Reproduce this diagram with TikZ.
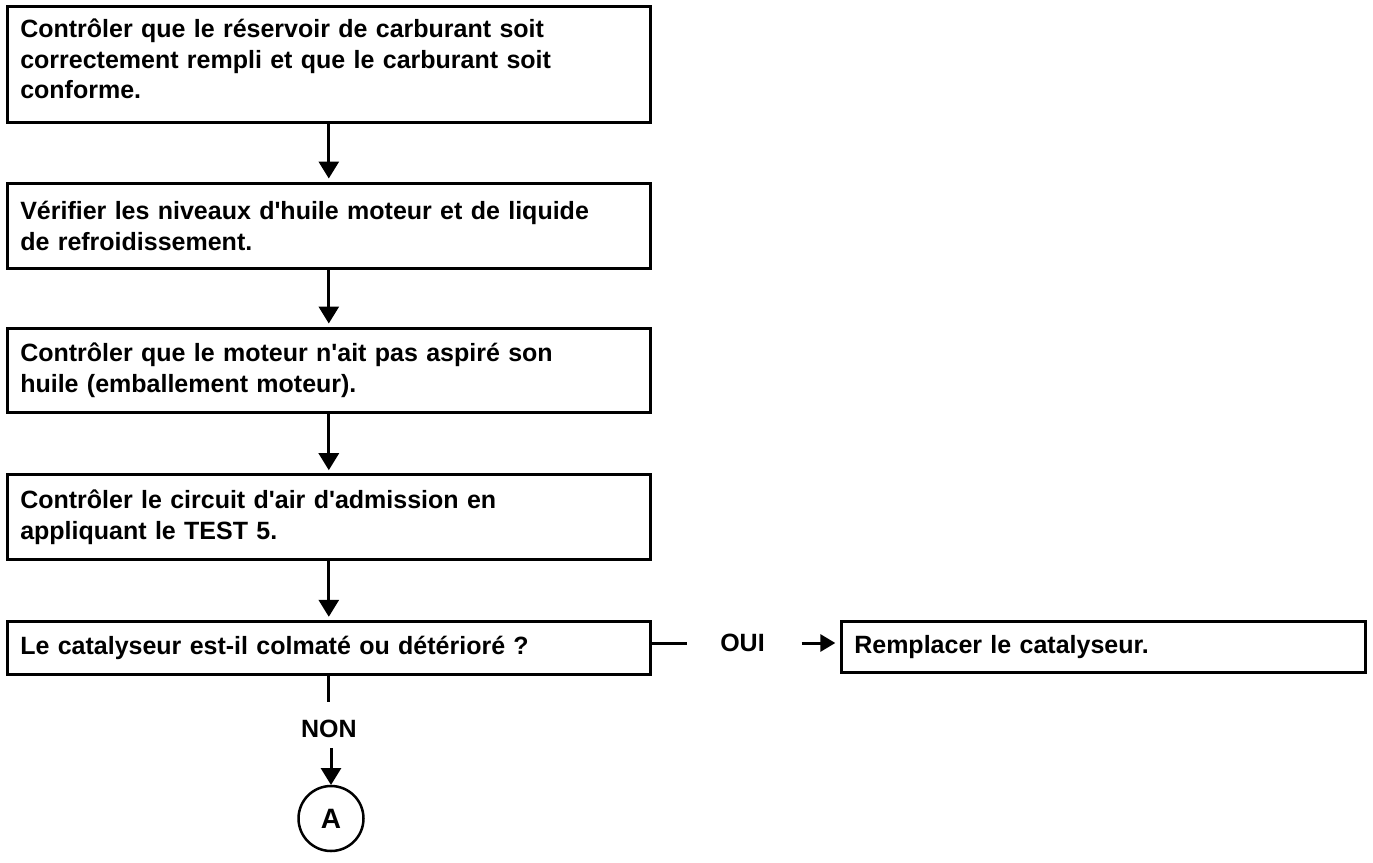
\documentclass[tikz,border=0pt]{standalone}
\usepackage{fontspec}
\setmainfont{Liberation Sans}
\usetikzlibrary{arrows.meta}

\newcommand{\flowfont}{\fontsize{25}{30.5}\selectfont\bfseries}
\newcommand{\apos}{\textquotesingle}

\tikzset{
  stepbox/.style={draw, line width=3pt, outer sep=0pt, anchor=north west,
    minimum width=643pt, text width=617pt, inner xsep=13pt, inner ysep=0pt,
    align=left, font=\flowfont},
  sidebox/.style={stepbox, minimum width=524.4pt, text width=498.4pt},
  flow/.style={line width=3pt, -{Triangle[width=20pt,length=17pt]}},
  plain/.style={line width=3pt},
  answer/.style={font=\flowfont, inner sep=0pt},
  connector/.style={draw, circle, line width=2.5pt, minimum size=65pt,
    inner sep=0pt, outer sep=0pt, font=\fontsize{28}{30}\selectfont\bfseries}
}

\begin{document}
\begin{tikzpicture}[x=1pt, y=-1pt]
\useasboundingbox (0,0) rectangle (1373,862);

% checklist steps
\node[stepbox, minimum height=116pt, text depth=71pt] (q1) at (7.3,6)
  {Contrôler que le réservoir de carburant soit\\
   correctement rempli et que le carburant soit\\
   conforme.};
\node[stepbox, minimum height=85.7pt] (q2) at (7.3,183)
  {Vérifier les niveaux d\apos huile moteur et de liquide\\
   de refroidissement.};
\node[stepbox, minimum height=84.3pt] (q3) at (7.3,328)
  {Contrôler que le moteur n\apos ait pas aspiré son\\
   huile (emballement moteur).};
\node[stepbox, minimum height=85pt] (q4) at (7.3,474.7)
  {Contrôler le circuit d\apos air d\apos admission en\\
   appliquant le TEST 5.};
\node[stepbox, minimum height=52.7pt] (q5) at (7.3,621.3)
  {Le catalyseur est-il colmaté ou détérioré ?};

% remedy on the right
\node[sidebox, minimum height=50.7pt] (fix) at (841.3,621.3)
  {Remplacer le catalyseur.};

% vertical flow between steps
\draw[flow, shorten >=4.5pt] (q1.south) -- (q2.north);
\draw[flow, shorten >=4.5pt] (q2.south) -- (q3.north);
\draw[flow, shorten >=4.5pt] (q3.south) -- (q4.north);
\draw[flow, shorten >=4.5pt] (q4.south) -- (q5.north);

% OUI branch
\node[answer] (oui) at (742.5,643) {OUI};
\coordinate (ouistub) at (686.7,643);
\draw[plain] (q5.east |- oui) -- (ouistub);
\draw[line width=3pt, -{Triangle[width=17pt,length=15pt]}, shorten <=59pt, shorten >=6pt]
  (oui.center) -- (fix.west |- oui);

% NON branch
\coordinate (nonstub) at (328.8,702);
\draw[plain] (q5.south) -- (nonstub);
\node[answer] (non) at (328.8,729) {NON};
\node[connector] (a) at (331,818.5) {A};
\draw[flow, shorten <=10pt, shorten >=1pt] (non.south -| a) -- (a.north);
\end{tikzpicture}
\end{document}
